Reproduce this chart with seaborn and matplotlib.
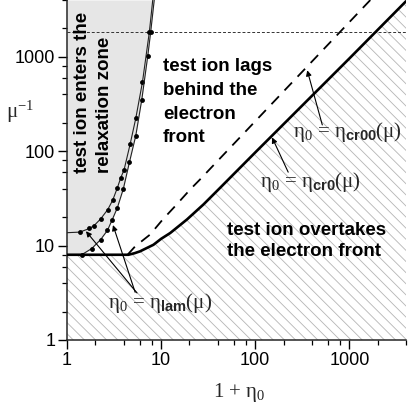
import matplotlib
matplotlib.use('Agg')
import matplotlib.pyplot as plt
import seaborn as sns
import numpy as np
from matplotlib.ticker import FixedLocator, NullFormatter, FixedFormatter

# ---------------- data ----------------
mu_inv_proton = 1836

# eta_cr0(mu): thick solid boundary
cr0_x = [1, 4.5, 5.2, 5.98, 7.0, 8.28, 10.0, 12.5, 18.8, 28.2, 42.4, 100, 1000, 4000]
cr0_y = [8, 8, 8.3, 8.7, 9.4, 10.2, 11.8, 13.6, 18.9, 27.3, 41, 97, 960, 3880]

# eta_cr00(mu): dashed boundary
cr00_x = [4.4, 5.29, 7.64, 10.4, 14.1, 20.4, 26, 200, 1672]
cr00_y = [8, 9.8, 13.1, 18.9, 26.2, 39.4, 50.4, 430, 4000]

# eta_lam(mu): two dotted curves
lamA_x = [1.0, 1.37, 1.73, 1.94, 2.28, 2.71, 3.06, 3.43, 3.73, 4.04, 4.68, 5.38, 6.33, 7.5, 8.15]
lamA_y = [13.7, 13.9, 15.2, 16.3, 19.2, 24.1, 30.3, 41, 52.5, 63.5, 118, 223, 537, 1836, 4000]
lamB_x = [1.43, 1.83, 2.28, 2.69, 3.03, 3.43, 3.97, 4.6, 5.38, 6.23, 7.21, 7.75, 8.45]
lamB_y = [8, 9.3, 11.6, 14.5, 18.9, 25.2, 40, 76, 146, 351, 1016, 1836, 4000]

major_ticks = [1, 10, 100, 1000]
major_labels = ['1', '10', '100', '1000']
minor_ticks = [m * d for d in [1, 10, 100, 1000] for m in (2, 4, 6, 8)]

# ---------------- style ----------------
sns.set_style('ticks')
plt.rcParams['font.family'] = ['Liberation Sans', 'DejaVu Sans']
plt.rcParams['mathtext.fontset'] = 'custom'
plt.rcParams['mathtext.rm'] = 'Liberation Serif'
plt.rcParams['mathtext.it'] = 'Liberation Serif:italic'
plt.rcParams['mathtext.bf'] = 'Liberation Sans:bold'
plt.rcParams['hatch.linewidth'] = 0.6
plt.rcParams['hatch.color'] = '#b5b5b5'

fig = plt.figure(figsize=(4.09, 4.05), dpi=100)
ax = fig.add_axes([67/409, 65/405, 339/409, 340/405])
ax.set_xscale('log')
ax.set_yscale('log')
ax.set_xlim(1, 4000)
ax.set_ylim(1, 4000)

# regions
ax.fill_between(cr0_x, 1, cr0_y, facecolor='none', edgecolor='#b5b5b5',
                hatch='\\\\\\', linewidth=0, zorder=0)
ax.fill_betweenx(lamB_y, 1, lamB_x, color='#e6e6e6', linewidth=0, zorder=0)

# horizontal proton line
ax.axhline(mu_inv_proton, color='#333333', lw=0.7, ls=(0, (3, 2)), zorder=1)

# curves
sns.lineplot(x=lamA_x, y=lamA_y, ax=ax, color='#222222', lw=0.8, sort=False,
             estimator=None, marker='o', markersize=3.5, markeredgewidth=0,
             markerfacecolor='black', markevery=list(range(1, len(lamA_x) - 1)), zorder=3)
sns.lineplot(x=lamB_x, y=lamB_y, ax=ax, color='#222222', lw=0.8, sort=False,
             estimator=None, marker='o', markersize=3.5, markeredgewidth=0,
             markerfacecolor='black', markevery=list(range(0, len(lamB_x) - 1)), zorder=3)
sns.lineplot(x=cr00_x, y=cr00_y, ax=ax, color='black', lw=1.3, sort=False,
             estimator=None, dashes=False, zorder=3).lines[-1].set_dashes([6, 4.5])
sns.lineplot(x=cr0_x, y=cr0_y, ax=ax, color='black', lw=1.9, sort=False,
             estimator=None, zorder=4)

# axes styling
for s in ['top', 'right']:
    ax.spines[s].set_visible(False)
for s in ['left', 'bottom']:
    ax.spines[s].set_linewidth(1.1)
for axis in (ax.xaxis, ax.yaxis):
    axis.set_major_locator(FixedLocator(major_ticks))
    axis.set_major_formatter(FixedFormatter(major_labels))
    axis.set_minor_locator(FixedLocator(minor_ticks))
    axis.set_minor_formatter(NullFormatter())
ax.tick_params(which='major', direction='out', length=6.5, width=1.0, labelsize=13,
               colors='black', pad=2)
ax.tick_params(which='minor', direction='out', length=3.5, width=0.9, colors='black')

# axis labels
serif = 'Liberation Serif'
fig.text(20/409, 1 - 112/405, r'μ$^{-1}$', family=serif, fontsize=15, ha='center', va='center')
fig.text(239/409, 1 - 392/405, r'1 + η$_0$', family=serif, fontsize=15, ha='center', va='center')

# region labels
bold = dict(family='Liberation Sans', fontweight='bold', fontsize=13.5, color='black')
ax.text(1.9, 59, 'test ion enters the\nrelaxation zone', rotation=90,
        ha='center', va='bottom', multialignment='left', linespacing=1.35, **bold)
ax.text(10.5, 330, 'test ion lags\nbehind the\nelectron\nfront', ha='left', va='center',
        linespacing=1.52, **bold)
ax.text(50.4, 11.1, 'test ion overtakes\nthe electron front', ha='left', va='center',
        linespacing=1.32, **bold)

# curve labels with arrows
arrow = dict(arrowstyle='-|>', color='black', lw=0.8, mutation_scale=8, shrinkA=0, shrinkB=0)
lab = dict(family=serif, fontsize=15, ha='left', va='center')
ax.text(254, 160, r'η$_0$ = η$_{\mathbf{cr00}}$(μ)', **lab)
ax.annotate('', xy=(357, 720), xytext=(516, 190), arrowprops=arrow)
ax.text(113, 47.4, r'η$_0$ = η$_{\mathbf{cr0}}$(μ)', **lab)
ax.annotate('', xy=(151, 140), xytext=(224, 60), arrowprops=arrow)
ax.text(2.73, 2.47, r'η$_0$ = η$_{\mathbf{lam}}$(μ)', **lab)
ax.annotate('', xy=(1.59, 14.2), xytext=(5.55, 3.15), arrowprops=arrow)
ax.annotate('', xy=(3.08, 16.5), xytext=(5.3, 3.2), arrowprops=arrow)

fig.savefig('out.png', dpi=100)
